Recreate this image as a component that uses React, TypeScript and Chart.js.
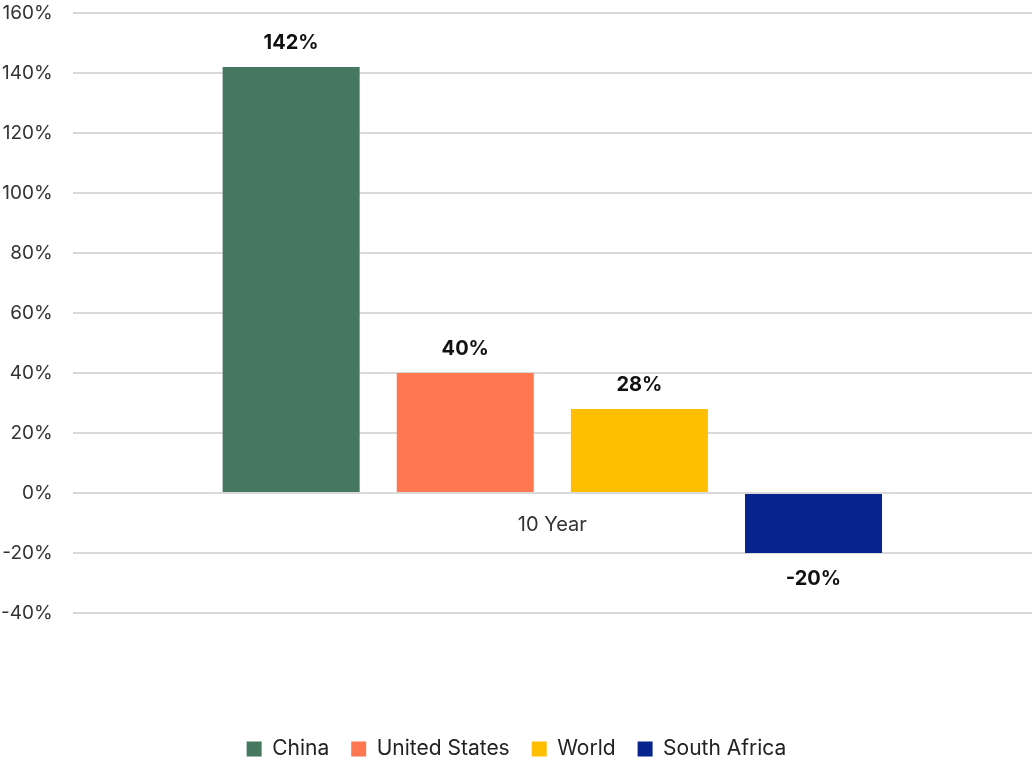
import React, { useEffect, useRef } from "react";
import { Chart, registerables } from "chart.js";

Chart.register(...registerables);

const categories = ["10 Year"];
const seriesNames = ["China", "United States", "World", "South Africa"];
const seriesValues = [[142], [40], [28], [-20]];
const seriesColors = ["#46775F", "#FF7751", "#FFBF00", "#06238E"];
const yTicks = [-40, -20, 0, 20, 40, 60, 80, 100, 120, 140, 160];

const FONT = "Inter, 'Noto Sans', sans-serif";

const valueLabels = {
  id: "valueLabels",
  afterDatasetsDraw(chart: any) {
    const ctx = chart.ctx;
    ctx.save();
    ctx.font = `bold 20px ${FONT}`;
    ctx.fillStyle = "#111111";
    ctx.textAlign = "center";
    ctx.textBaseline = "middle";
    chart.data.datasets.forEach((ds: any, i: number) => {
      const meta = chart.getDatasetMeta(i);
      meta.data.forEach((bar: any, j: number) => {
        const v = ds.data[j];
        const y = v >= 0 ? bar.y - 24 : bar.y + 26;
        ctx.fillText(`${v}%`, bar.x, y);
      });
    });
    ctx.restore();
  },
};

export default function App() {
  const ref = useRef<HTMLCanvasElement | null>(null);
  useEffect(() => {
    document.body.style.margin = "0";
    if (!ref.current) return;
    const chart = new Chart(ref.current, {
      type: "bar",
      data: {
        labels: categories,
        datasets: seriesNames.map((name, i) => ({
          label: name,
          data: seriesValues[i],
          backgroundColor: seriesColors[i],
          borderWidth: 0,
          barPercentage: 0.787,
          categoryPercentage: 0.726,
        })),
      },
      options: {
        animation: false,
        responsive: false,
        maintainAspectRatio: false,
        layout: { padding: { top: 13, right: 0, left: 1, bottom: -8.5 } },
        plugins: {
          tooltip: { enabled: false },
          legend: {
            position: "bottom",
            title: {
              display: true,
              text: "",
              padding: { top: 91.5, bottom: 0 },
              font: { size: 10 },
            },
            labels: {
              boxWidth: 15,
              boxHeight: 15,
              padding: 22,
              color: "#222222",
              font: { family: FONT, size: 21 },
            },
          },
        },
        scales: {
          x: {
            position: { y: 0 } as any,
            afterFit: (s: any) => {
              s.height = 0;
            },
            grid: { display: false, drawTicks: false },
            border: { display: false },
            ticks: {
              color: "#333333",
              font: { family: FONT, size: 20 },
              padding: 20,
            },
          },
          y: {
            min: -40,
            max: 160,
            afterBuildTicks: (axis: any) => {
              axis.ticks = yTicks.map((v) => ({ value: v }));
            },
            grid: {
              color: "#d9d9d9",
              lineWidth: 2,
              drawTicks: true,
              tickLength: 20,
              tickColor: "rgba(0,0,0,0)",
            },
            border: { display: false },
            ticks: {
              color: "#333333",
              font: { family: FONT, size: 19 },
              padding: 0,
              callback: (v: any) => `${v}%`,
            },
          },
        },
      },
      plugins: [valueLabels],
    });
    return () => chart.destroy();
  }, []);
  return (
    <div style={{ width: 1032, height: 761, overflow: "hidden" }}>
      <canvas ref={ref} width={1032} height={761} style={{ display: "block" }} />
    </div>
  );
}
